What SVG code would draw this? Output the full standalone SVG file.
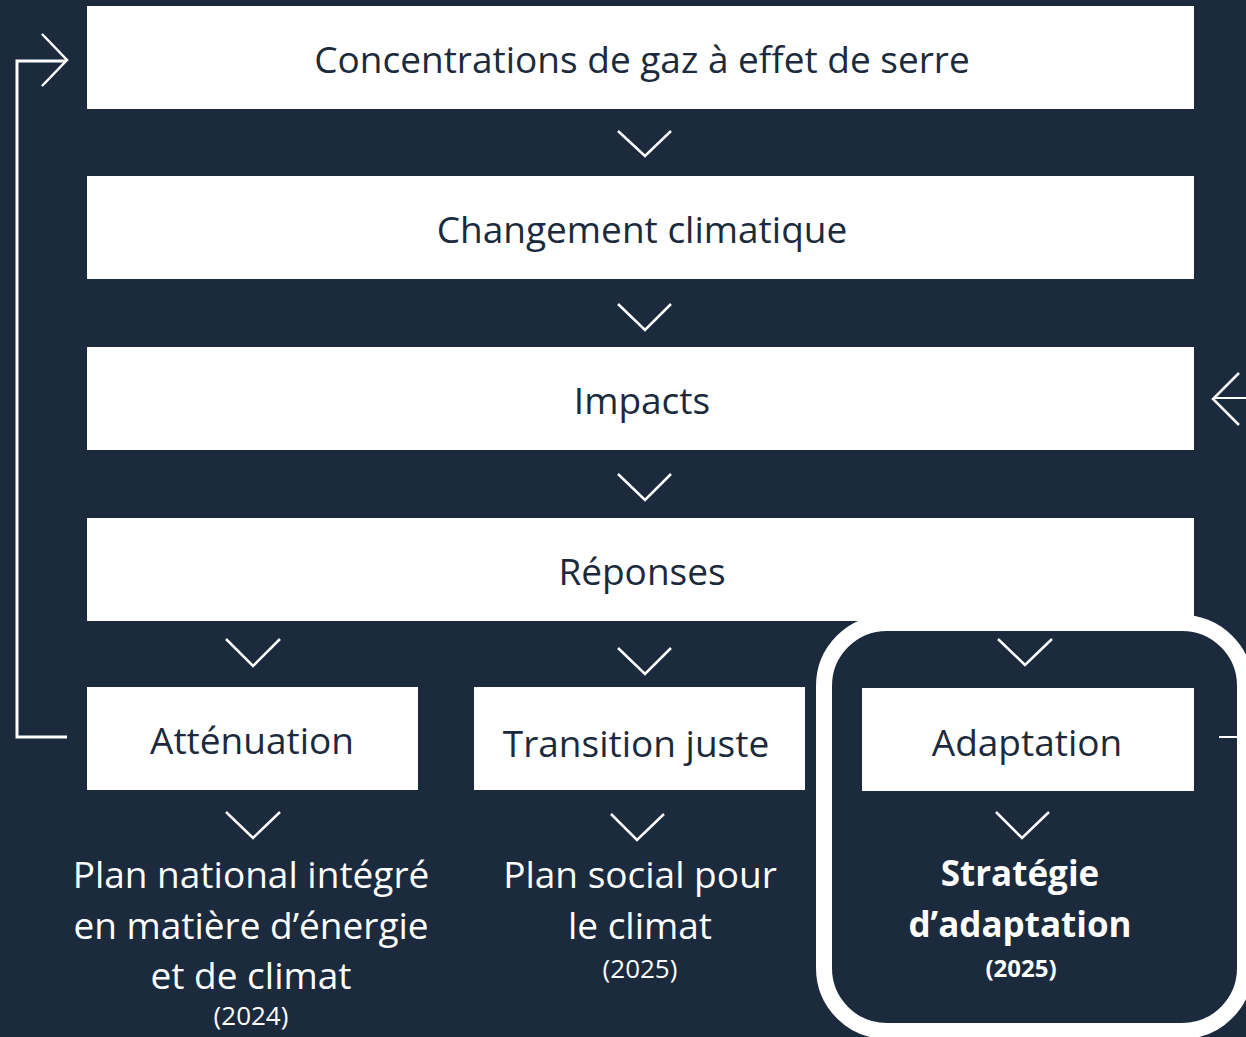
<svg xmlns="http://www.w3.org/2000/svg" width="1246" height="1037" viewBox="0 0 1246 1037">
<style>
.bg{fill:#1b2a3d}
.box{fill:#ffffff}
.bt{font-family:"Open Sans","Noto Sans",sans-serif;font-size:37px;fill:#1b2a3d;text-anchor:middle}
.ot{font-family:"Open Sans","Noto Sans",sans-serif;font-size:37px;fill:#ffffff;text-anchor:middle}
.sm{font-family:"Open Sans","Noto Sans",sans-serif;font-size:26px;fill:#ffffff;text-anchor:middle}
.bold{font-weight:700;font-size:35px}
.bsm{font-weight:700;font-size:24px}
.chev{fill:none;stroke:#ffffff;stroke-width:2.5}
.line{fill:none;stroke:#ffffff;stroke-width:3}
</style>
<rect class="bg" x="0" y="0" width="1246" height="1037"/>

<g id="node-strategie-adaptation">
<rect x="824" y="623" width="421" height="408" rx="63" ry="63" fill="none" stroke="#ffffff" stroke-width="16"/>
<text class="ot bold" x="1020" y="886">Stratégie</text>
<text class="ot bold" x="1020" y="937">d’adaptation</text>
<text class="sm bsm" x="1021" y="977">(2025)</text>
</g>

<g id="node-concentrations">
<rect class="box" x="87" y="6" width="1107" height="103"/>
<text class="bt" x="642" y="73">Concentrations de gaz à effet de serre</text>
</g>
<g id="node-changement">
<rect class="box" x="87" y="176" width="1107" height="103"/>
<text class="bt" x="642" y="243">Changement climatique</text>
</g>
<g id="node-impacts">
<rect class="box" x="87" y="347" width="1107" height="103"/>
<text class="bt" x="642" y="414">Impacts</text>
</g>
<g id="node-reponses">
<rect class="box" x="87" y="518" width="1107" height="103"/>
<text class="bt" x="642" y="585">Réponses</text>
</g>
<g id="node-attenuation">
<rect class="box" x="87" y="687" width="331" height="103"/>
<text class="bt" x="252" y="754">Atténuation</text>
</g>
<g id="node-transition">
<rect class="box" x="474" y="687" width="331" height="103"/>
<text class="bt" x="636" y="757">Transition juste</text>
</g>
<g id="node-adaptation">
<rect class="box" x="862" y="688" width="332" height="103"/>
<text class="bt" x="1027" y="756">Adaptation</text>
</g>
<g id="node-pniec">
<text class="ot" x="251" y="888">Plan national intégré</text>
<text class="ot" x="251" y="939">en matière d’énergie</text>
<text class="ot" x="251" y="989">et de climat</text>
<text class="sm" x="251" y="1025">(2024)</text>
</g>
<g id="node-psc">
<text class="ot" x="640" y="888">Plan social pour</text>
<text class="ot" x="640" y="939">le climat</text>
<text class="sm" x="640" y="978">(2025)</text>
</g>

<g id="connectors">
<polyline class="chev" points="618,131 645,156 671,131"/>
<polyline class="chev" points="618,304 645,330 671,304"/>
<polyline class="chev" points="618,474 645,500 671,474"/>
<polyline class="chev" points="226,639 253,666 280,639"/>
<polyline class="chev" points="618,648 645,674 671,648"/>
<polyline class="chev" points="998,639 1025,665 1052,639"/>
<polyline class="chev" points="226,812 253,838 280,812"/>
<polyline class="chev" points="611,814 637,840 664,814"/>
<polyline class="chev" points="996,812 1022,838 1049,812"/>
<polyline class="line" points="67,737 17,737 17,61 66,61"/>
<polyline class="chev" points="42,34 67,60 42,86"/>
<polyline class="line" style="stroke-width:2" points="1219,737 1252,737 1252,398 1215,398"/>
<polyline class="chev" points="1239,373 1213,399 1239,425"/>
</g>
</svg>
